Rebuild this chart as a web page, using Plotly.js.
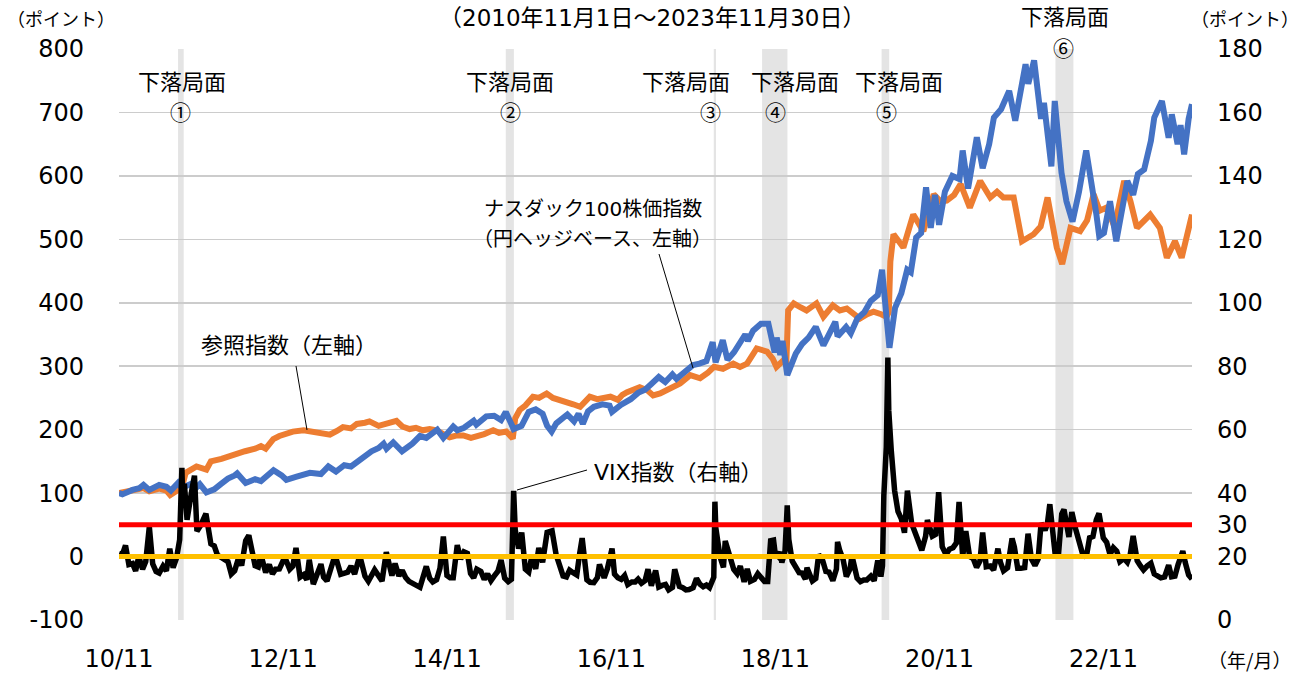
<!DOCTYPE html>
<html>
<head>
<meta charset="utf-8">
<script src="https://cdn.plot.ly/plotly-3.0.1.min.js"></script>
<style>
  html, body { margin: 0; padding: 0; background: #fff; }
  #chart { width: 1303px; height: 674px; }
</style>
</head>
<body>
<div id="chart"></div>
<script>
// ---------------- DATA ----------------
const nasdaqDates = ['2010-11-01','2010-11-16','2010-12-31','2011-01-31','2011-02-18','2011-03-16','2011-04-29','2011-05-31','2011-06-20','2011-07-22','2011-08-08','2011-08-31','2011-09-20','2011-10-03','2011-10-27','2011-11-25','2011-12-30','2012-01-31','2012-02-29','2012-03-30','2012-04-10','2012-05-18','2012-06-29','2012-07-25','2012-08-31','2012-09-19','2012-10-25','2012-11-15','2012-12-31','2013-01-31','2013-02-28','2013-04-18','2013-05-21','2013-06-24','2013-07-31','2013-08-30','2013-09-30','2013-10-31','2013-11-29','2013-12-31','2014-01-22','2014-02-04','2014-03-06','2014-04-14','2014-05-30','2014-07-03','2014-07-31','2014-09-18','2014-10-15','2014-11-28','2014-12-16','2015-01-15','2015-02-27','2015-03-11','2015-04-24','2015-05-29','2015-06-29','2015-07-20','2015-08-24','2015-09-28','2015-10-30','2015-11-30','2015-12-31','2016-01-20','2016-02-09','2016-03-01','2016-04-19','2016-05-19','2016-06-08','2016-06-27','2016-07-20','2016-08-15','2016-09-22','2016-10-24','2016-11-04','2016-12-13','2017-01-26','2017-02-28','2017-03-31','2017-04-28','2017-05-31','2017-06-29','2017-07-31','2017-08-18','2017-09-29','2017-10-31','2017-11-28','2017-12-29','2018-01-26','2018-02-08','2018-03-12','2018-04-02','2018-05-01','2018-06-20','2018-07-02','2018-07-25','2018-08-29','2018-10-01','2018-10-29','2018-11-07','2018-11-23','2018-12-03','2018-12-24','2019-01-31','2019-02-28','2019-03-29','2019-04-30','2019-06-03','2019-07-26','2019-08-05','2019-09-12','2019-10-03','2019-11-01','2019-12-02','2019-12-31','2020-01-31','2020-02-19','2020-03-16','2020-03-23','2020-04-17','2020-05-15','2020-06-10','2020-06-26','2020-07-20','2020-08-11','2020-09-02','2020-09-23','2020-10-12','2020-10-30','2020-11-25','2020-12-28','2021-01-29','2021-02-12','2021-03-08','2021-04-16','2021-05-12','2021-06-10','2021-07-01','2021-08-02','2021-09-07','2021-10-04','2021-11-19','2021-12-01','2021-12-27','2022-01-27','2022-02-09','2022-03-14','2022-03-29','2022-04-28','2022-05-20','2022-06-16','2022-07-15','2022-08-16','2022-09-30','2022-10-13','2022-11-03','2022-11-30','2022-12-28','2023-01-31','2023-02-15','2023-03-13','2023-04-03','2023-05-01','2023-05-31','2023-06-15','2023-07-19','2023-08-18','2023-09-01','2023-09-27','2023-10-10','2023-10-26','2023-11-15','2023-11-30'];
const nasdaqValues = [100,98,105,108,113,105,113,110,104,116,108,112,115,106,114,101,106,115,123,128,131,116,122,119,130,136,128,121,126,129,132,130,142,134,144,142,151,158,166,171,178,170,180,166,178,190,187,200,187,205,199,203,214,208,221,222,215,228,201,206,228,232,225,206,197,210,224,213,225,209,229,236,240,238,228,239,248,258,263,272,283,275,287,280,292,302,304,308,338,306,341,310,322,350,340,356,367,367,322,345,318,340,286,320,335,345,362,333,370,347,362,352,375,385,403,412,452,345,329,392,415,452,448,503,510,582,518,570,523,575,600,595,640,580,661,612,650,692,705,734,687,776,745,782,690,715,615,718,605,560,528,575,640,540,505,510,560,497,565,592,570,603,610,655,692,718,660,697,650,680,634,690,713];

const refDates = ['2010-11-01','2010-12-15','2011-01-31','2011-02-18','2011-03-16','2011-04-29','2011-05-31','2011-06-17','2011-07-22','2011-08-10','2011-08-25','2011-09-20','2011-10-12','2011-11-25','2011-12-15','2012-01-31','2012-02-29','2012-04-02','2012-05-15','2012-06-29','2012-07-25','2012-08-15','2012-09-18','2012-10-15','2012-11-15','2012-12-14','2013-01-31','2013-02-28','2013-04-01','2013-04-30','2013-05-28','2013-06-28','2013-07-25','2013-08-30','2013-09-25','2013-10-31','2013-11-20','2013-12-31','2014-01-20','2014-02-28','2014-03-20','2014-04-15','2014-05-18','2014-06-15','2014-07-15','2014-08-15','2014-09-15','2014-10-15','2014-11-12','2014-12-15','2015-01-12','2015-02-15','2015-03-10','2015-04-15','2015-05-25','2015-06-20','2015-07-22','2015-08-20','2015-08-31','2015-09-20','2015-10-15','2015-11-18','2015-12-15','2016-01-18','2016-02-15','2016-03-15','2016-04-15','2016-05-15','2016-06-15','2016-07-28','2016-08-30','2016-09-28','2016-10-28','2016-11-30','2016-12-20','2017-01-10','2017-02-07','2017-03-07','2017-04-10','2017-05-06','2017-06-06','2017-07-06','2017-08-03','2017-09-03','2017-10-18','2017-12-01','2018-01-05','2018-02-01','2018-03-13','2018-04-28','2018-05-28','2018-06-28','2018-08-10','2018-09-25','2018-10-20','2018-11-06','2018-12-06','2018-12-20','2018-12-28','2019-01-22','2019-02-20','2019-03-20','2019-05-03','2019-06-03','2019-07-15','2019-08-15','2019-09-15','2019-10-15','2019-11-12','2019-12-15','2020-01-12','2020-02-15','2020-03-10','2020-03-20','2020-03-27','2020-04-10','2020-05-24','2020-07-07','2020-08-21','2020-10-06','2020-11-05','2020-12-03','2021-01-05','2021-02-03','2021-03-16','2021-05-01','2021-06-15','2021-07-15','2021-08-12','2021-09-27','2021-11-03','2021-12-25','2022-01-25','2022-02-25','2022-04-07','2022-05-01','2022-06-07','2022-07-20','2022-08-20','2022-09-18','2022-10-15','2022-11-15','2022-12-20','2023-02-01','2023-03-01','2023-03-30','2023-05-28','2023-07-10','2023-08-10','2023-09-15','2023-10-15','2023-11-30'];
const refValues = [100,103,106,108,103,107,104,97,105,112,132,138,142,137,150,154,158,162,166,170,174,170,185,190,194,197,199,197,197,194,192,198,204,202,209,211,213,206,208,210,214,205,201,203,199,201,199,193,188,191,191,187,189,193,199,195,197,186,218,231,238,252,250,257,250,246,243,240,236,252,248,251,252,247,255,259,262,267,262,254,257,262,268,273,286,281,290,299,296,304,299,304,328,323,312,299,309,305,388,399,393,388,399,378,396,388,391,383,375,382,386,382,378,385,465,508,487,539,513,571,560,561,570,587,550,592,566,575,566,566,497,508,520,566,487,461,518,513,530,571,545,550,520,592,560,518,539,518,471,497,471,539];

const vixDates = ['2010-11-01','2010-11-16','2010-11-30','2010-12-15','2010-12-31','2011-01-14','2011-01-28','2011-02-14','2011-02-28','2011-03-16','2011-03-31','2011-04-15','2011-04-29','2011-05-16','2011-05-31','2011-06-15','2011-06-30','2011-07-15','2011-07-29','2011-08-08','2011-08-12','2011-08-19','2011-08-31','2011-09-12','2011-09-22','2011-10-03','2011-10-14','2011-10-31','2011-11-23','2011-12-15','2011-12-30','2012-01-13','2012-01-31','2012-02-15','2012-02-29','2012-03-15','2012-03-30','2012-04-16','2012-04-30','2012-05-18','2012-06-01','2012-06-15','2012-06-29','2012-07-13','2012-07-25','2012-08-15','2012-08-31','2012-09-14','2012-09-28','2012-10-15','2012-10-31','2012-11-15','2012-11-30','2012-12-14','2012-12-28','2013-01-15','2013-01-31','2013-02-14','2013-02-25','2013-03-15','2013-04-18','2013-04-30','2013-05-15','2013-06-20','2013-07-15','2013-08-15','2013-08-30','2013-09-15','2013-10-08','2013-10-31','2013-11-15','2013-12-13','2013-12-31','2014-01-15','2014-02-03','2014-02-28','2014-03-14','2014-03-31','2014-04-15','2014-04-30','2014-05-15','2014-06-13','2014-07-03','2014-07-31','2014-08-15','2014-08-29','2014-09-15','2014-09-30','2014-10-15','2014-10-31','2014-11-14','2014-11-28','2014-12-16','2014-12-31','2015-01-15','2015-01-30','2015-02-13','2015-02-27','2015-03-13','2015-03-31','2015-04-15','2015-04-30','2015-05-15','2015-05-29','2015-06-15','2015-06-29','2015-07-15','2015-07-31','2015-08-14','2015-08-24','2015-08-31','2015-09-15','2015-09-29','2015-10-15','2015-10-30','2015-11-13','2015-11-30','2015-12-14','2015-12-31','2016-01-20','2016-02-11','2016-02-29','2016-03-15','2016-03-31','2016-04-15','2016-04-29','2016-05-13','2016-05-31','2016-06-13','2016-06-24','2016-07-15','2016-07-29','2016-08-15','2016-08-31','2016-09-09','2016-09-30','2016-10-14','2016-11-04','2016-11-15','2016-11-30','2016-12-15','2016-12-30','2017-01-13','2017-01-31','2017-02-15','2017-02-28','2017-03-15','2017-03-31','2017-04-13','2017-04-28','2017-05-17','2017-05-31','2017-06-15','2017-06-30','2017-07-14','2017-07-31','2017-08-10','2017-08-31','2017-09-15','2017-09-29','2017-10-13','2017-10-31','2017-11-15','2017-11-30','2017-12-15','2017-12-29','2018-01-12','2018-01-31','2018-02-05','2018-02-09','2018-02-28','2018-03-15','2018-03-23','2018-04-06','2018-04-30','2018-05-15','2018-05-29','2018-06-15','2018-06-29','2018-07-13','2018-07-31','2018-08-15','2018-08-31','2018-09-14','2018-09-28','2018-10-11','2018-10-24','2018-10-31','2018-11-15','2018-11-23','2018-11-30','2018-12-14','2018-12-24','2018-12-31','2019-01-15','2019-01-31','2019-02-15','2019-02-28','2019-03-15','2019-03-22','2019-04-15','2019-04-30','2019-05-13','2019-05-31','2019-06-14','2019-06-28','2019-07-15','2019-07-31','2019-08-05','2019-08-14','2019-08-30','2019-09-13','2019-09-30','2019-10-08','2019-10-31','2019-11-15','2019-11-29','2019-12-13','2019-12-31','2020-01-15','2020-01-31','2020-02-14','2020-02-21','2020-02-27','2020-03-09','2020-03-16','2020-03-20','2020-03-31','2020-04-15','2020-04-30','2020-05-15','2020-05-29','2020-06-11','2020-06-30','2020-07-15','2020-07-31','2020-08-14','2020-08-31','2020-09-08','2020-09-30','2020-10-15','2020-10-28','2020-11-13','2020-11-30','2020-12-15','2020-12-31','2021-01-15','2021-01-27','2021-02-12','2021-02-26','2021-03-15','2021-03-31','2021-04-15','2021-04-30','2021-05-12','2021-05-28','2021-06-15','2021-06-30','2021-07-19','2021-07-30','2021-08-13','2021-08-31','2021-09-20','2021-09-30','2021-10-15','2021-10-29','2021-11-15','2021-11-30','2021-12-15','2021-12-31','2022-01-14','2022-01-27','2022-02-14','2022-02-24','2022-03-07','2022-03-31','2022-04-15','2022-04-29','2022-05-09','2022-05-31','2022-06-13','2022-06-30','2022-07-15','2022-07-29','2022-08-16','2022-08-31','2022-09-15','2022-09-30','2022-10-12','2022-10-31','2022-11-15','2022-11-30','2022-12-15','2022-12-30','2023-01-13','2023-01-31','2023-02-15','2023-02-28','2023-03-13','2023-03-31','2023-04-14','2023-04-28','2023-05-15','2023-05-31','2023-06-15','2023-06-30','2023-07-14','2023-07-31','2023-08-18','2023-08-31','2023-09-15','2023-09-29','2023-10-20','2023-10-31','2023-11-15','2023-11-30'];
const vixValues = [21,20.6,23.5,17.5,17.8,15.5,20,16,18.4,29.4,17.7,15.3,14.8,17,15.5,22.5,16.5,19.5,25.3,48,36,43,31.6,38.5,41.3,45.5,28,29.9,33.5,24,23.4,20.5,19.4,19,18.4,14.5,15.5,19.5,17.2,25,26.7,21.1,17.1,16.7,20.5,15,17.5,14.5,16,16.1,18.6,18.6,16,17,22.7,13.5,14.3,12.7,19,11.3,17.6,13.5,12.3,20.5,14.4,15.1,17,14.5,20.3,13.8,12.2,15.8,13.7,12.3,21.4,14,17.8,13.9,15.6,13.4,12.2,11,10.3,16.9,13.2,12,12.7,16.3,26.3,14,13.3,13.3,23.6,19.2,21.5,21,14.7,13.3,16,15.3,12.8,14.5,12.4,13.8,15.4,18.9,13.2,12.1,12.8,40.7,28.4,22.5,27.6,16,15.1,20.1,16.1,22.7,18.2,27.6,28.1,20.6,16.8,13.9,13.6,15.7,15,14.2,21,25.8,12.7,11.9,11.8,13.4,17.5,13.3,16.1,22.5,14.5,13.3,12.8,14,11.2,12,12,12.9,11.6,12.4,16,10.8,15.6,10.4,10.9,11.2,9.5,10.3,16,10.6,10.2,9.5,9.6,10.2,13.1,11.3,10.5,11,10.2,13.5,37.3,29,19.9,16.6,24.9,21.5,15.9,14.6,17,12,16.1,12.2,12.8,14.6,12.9,12.1,12.1,25,25.2,21.2,20,21.5,18.1,21.6,36.1,25.4,18.6,16.6,14.9,14.8,12.9,16.5,12.3,13.1,20.6,18.7,15.3,15.1,12.4,16.1,24.6,22.1,19,13.7,16.2,20.3,13.2,12.1,12.6,12.6,13.8,12.4,18.8,13.7,17.1,39.2,54.5,82.7,66,53.5,40.8,34.2,31.9,27.5,40.8,30.4,27.8,24.5,22,26.4,31.5,26.4,27,40.3,23.1,20.6,22.3,22.8,24.3,37.2,20,28,20,19.4,16.6,18.6,27.6,16.8,17,15.8,22.5,18.2,15.5,16.5,25.7,23.1,16.3,16.3,16.5,27.2,19.3,17.2,19.2,30.5,28.3,30.3,36.5,20.6,21,33.4,34.8,26.2,34,28.7,24.2,21.3,19.7,25.9,26.3,31.6,33.6,25.9,24.5,20.6,22.8,21.7,18.4,19.4,18.2,20.7,26.5,18.7,17.1,15.8,17.1,17.9,14.5,13.6,13.3,13.6,17.3,13.6,13.8,17.5,21.7,18.1,14.2,12.9];

const thresholdLevels = [30, 20];              // red, yellow (right axis)
const periodStart = '2010-11-01';
const periodEnd = '2023-11-30';

const bandStarts = ['2011-07-22','2015-07-20','2018-01-31','2018-09-03','2020-02-17','2022-04-01'];
const bandEnds   = ['2011-08-16','2015-08-25','2018-02-10','2018-12-25','2020-03-22','2022-06-20'];
const bandLabels = ['①','②','③','④','⑤','⑥'];

const xTickVals = ['2010-11-01','2012-11-01','2014-11-01','2016-11-01','2018-11-01','2020-11-01','2022-11-01'];
const xTickText = ['10/11','12/11','14/11','16/11','18/11','20/11','22/11'];
const leftTickVals = [-100,0,100,200,300,400,500,600,700,800];
const leftTickText = ['-100','0','100','200','300','400','500','600','700','800'];
const rightTickVals = [0,20,30,40,60,80,100,120,140,160,180];
const rightTickText = ['0','20','30','40','60','80','100','120','140','160','180'];

// ---------------- LAYOUT HELPERS ----------------
const L = 119, R = 1192, T = 49, B = 620;
const px = x => (x - L) / (R - L);
const py = y => (B - y) / (B - T);
const latin = 'DejaVu Sans, Noto Sans CJK JP, sans-serif';
const cjk = 'Noto Sans CJK JP, sans-serif';

const traces = [
  { x: refDates, y: refValues, type: 'scatter', mode: 'lines', name: '参照指数',
    line: { color: '#ED7D31', width: 6 }, yaxis: 'y', hoverinfo: 'skip' },
  { x: nasdaqDates, y: nasdaqValues, type: 'scatter', mode: 'lines', name: 'ナスダック100株価指数',
    line: { color: '#4472C4', width: 6 }, yaxis: 'y', hoverinfo: 'skip' },
  { x: vixDates, y: vixValues, type: 'scatter', mode: 'lines', name: 'VIX指数',
    line: { color: '#000000', width: 5.5 }, yaxis: 'y2', hoverinfo: 'skip' },
  { x: [periodStart, periodEnd], y: [thresholdLevels[0], thresholdLevels[0]], type: 'scatter', mode: 'lines',
    line: { color: '#FF0000', width: 5 }, yaxis: 'y2', hoverinfo: 'skip' },
  { x: [periodStart, periodEnd], y: [thresholdLevels[1], thresholdLevels[1]], type: 'scatter', mode: 'lines',
    line: { color: '#FFC000', width: 5 }, yaxis: 'y2', hoverinfo: 'skip' }
];

const shapes = bandStarts.map((s, i) => ({
  type: 'rect', xref: 'x', yref: 'paper', x0: s, x1: bandEnds[i], y0: 0, y1: 1,
  fillcolor: '#E4E4E4', line: { width: 0 }, layer: 'between'
}));
// leader lines for the series labels
[[659,254,693,368],[296,366,307,430],[587,470,517,490]].forEach(p => {
  shapes.push({ type: 'line', xref: 'paper', yref: 'paper',
    x0: px(p[0]), y0: py(p[1]), x1: px(p[2]), y1: py(p[3]),
    line: { color: '#000', width: 1 } });
});

const ann = (text, x, y, size, family, xanchor) => ({
  text, xref: 'paper', yref: 'paper', x: px(x), y: py(y), showarrow: false,
  xanchor: xanchor || 'center', yanchor: 'middle', borderpad: 0,
  font: { size, family: family || latin, color: '#000' }
});

// fall-phase label positions (pixel centres of the text)
const fallTextPos = [[182,83],[510,83],[686,83],[795,83],[899,83],[1065,17]];
const fallNumPos  = [[180,111],[510,111],[710,111],[775,111],[886,111],[1063,47]];

const annotations = [
  ann('（2010年11月1日～2023年11月30日）', 652, 18, 23),
  ann('（ポイント）', 61, 18, 18, cjk),
  ann('（ポイント）', 1245, 18, 18, cjk),
  ann('（年/月）', 1249, 659, 19, cjk),
  ann('ナスダック100株価指数', 593, 209, 20),
  ann('（円ヘッジベース、左軸）', 592, 239, 20),
  ann('参照指数（左軸）', 289, 345, 22),
  ann('VIX指数（右軸）', 678, 472, 22)
];
bandLabels.forEach((b, i) => {
  annotations.push(ann('下落局面', fallTextPos[i][0], fallTextPos[i][1], 22));
  annotations.push(ann(b, fallNumPos[i][0], fallNumPos[i][1], 21, cjk));
});

const layout = {
  width: 1303, height: 674,
  margin: { l: L, r: 1303 - R, t: T, b: 674 - B, pad: 0 },
  paper_bgcolor: '#fff', plot_bgcolor: '#fff',
  showlegend: false,
  xaxis: {
    type: 'date', range: [periodStart, periodEnd],
    tickmode: 'array', tickvals: xTickVals, ticktext: xTickText,
    showgrid: false, zeroline: false, showline: false, ticks: '',
    tickfont: { family: latin, size: 24, color: '#000' }, ticklabelstandoff: 22
  },
  yaxis: {
    range: [-100, 800], tickmode: 'array', tickvals: leftTickVals, ticktext: leftTickText,
    showgrid: true, gridcolor: '#CCCCCC', gridwidth: 1.5, zeroline: false, showline: false, ticks: '',
    tickfont: { family: latin, size: 24, color: '#000' }, ticklabelstandoff: 34
  },
  yaxis2: {
    overlaying: 'y', side: 'right', range: [0, 180],
    tickmode: 'array', tickvals: rightTickVals, ticktext: rightTickText,
    showgrid: false, zeroline: false, showline: false, ticks: '',
    tickfont: { family: latin, size: 24, color: '#000' }, ticklabelstandoff: 24
  },
  shapes, annotations
};

Plotly.newPlot('chart', traces, layout, { displayModeBar: false, staticPlot: true });
</script>
</body>
</html>
